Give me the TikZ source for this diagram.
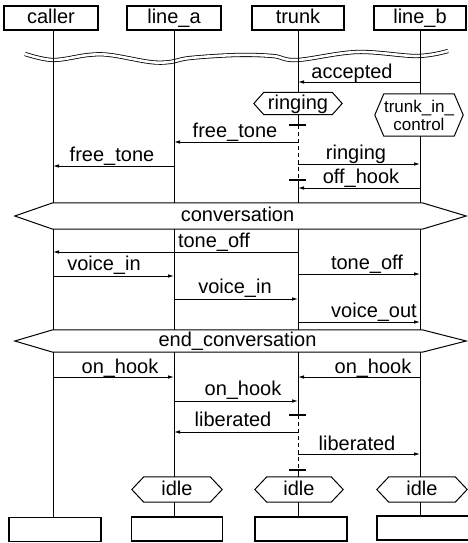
\documentclass[tikz,border=0pt]{standalone}
\usepackage{fontspec}
\setmainfont{Liberation Sans}
\usetikzlibrary{arrows.meta}

% outline of a state symbol round a named node: pointed ends to the left and right
\newcommand\hexoutline[3]{%
  \draw[hexline] (#1.north west) -- (#1.north east) -- ([xshift=#3]#1.east)
    -- (#1.south east) -- (#1.south west) -- ([xshift=-#2]#1.west) -- cycle;}

\begin{document}
\begin{tikzpicture}[x=1pt,y=-1pt,
  txt/.style={font=\fontsize{20}{22}\selectfont},
  lbl/.style={txt, inner sep=0pt, anchor=base},
  objbox/.style={txt, draw, line width=1.1pt, minimum width=92pt, minimum height=24pt,
    inner sep=0pt, text height=14pt, text depth=3pt},
  statenode/.style={txt, inner sep=0pt, text height=14pt, text depth=3pt},
  hexline/.style={line width=1pt, line join=miter},
  life/.style={line width=1pt},
  dashlife/.style={line width=1pt, dash pattern=on 4pt off 3pt},
  msg/.style={line width=0.9pt, -{Latex[length=6pt,width=3.6pt]}},
  timer/.style={line width=2.4pt},
  breakline/.style={line width=0.8pt, double=white, double distance=2.6pt},
]
\fill[white] (0,0) rectangle (467,543);
\useasboundingbox (0,0) rectangle (467,543);

% lifeline positions
\coordinate (xca) at (53,0);
\coordinate (xla) at (174,0);
\coordinate (xtr) at (298,0);
\coordinate (xlb) at (420,0);

% process headers
\node[objbox, minimum width=94pt] (caller) at (51,18) {caller};
\node[objbox, minimum width=94pt] (linea)  at (174,18) {line\_a};
\node[objbox] (trunk) at (298,18) {trunk};
\node[objbox] (lineb) at (420,18) {line\_b};

% time break
\draw[breakline] plot[smooth, tension=0.6] coordinates {(25,54) (53,60) (88,55) (110,55)
  (150,62) (170,62) (190,58) (237,55) (273,56) (297,60) (357,52) (417,56) (448,51)};

% states
\node[statenode, minimum width=68pt, minimum height=22pt] (ringing) at (298,103.5) {ringing};
\hexoutline{ringing}{10}{10}
\node[inner sep=0pt, minimum width=70pt, minimum height=42pt, align=center,
  font=\fontsize{17}{18}\selectfont] (tic) at (419,115) {trunk\_in\_\\control};
\hexoutline{tic}{9}{9}

\node[statenode, minimum width=369pt, minimum height=26pt] (conv) at (237.5,216) {conversation};
\hexoutline{conv}{38}{44}
\node[statenode, minimum width=369pt, minimum height=22pt] (endc) at (237.5,341) {end\_conversation};
\hexoutline{endc}{38}{44}

\node[statenode, minimum width=66pt, minimum height=25pt] (idlea) at (177,489.5) {idle};
\hexoutline{idlea}{12}{12}
\node[statenode, minimum width=64pt, minimum height=25pt] (idlet) at (299,489.5) {idle};
\hexoutline{idlet}{12}{12}
\node[statenode, minimum width=66pt, minimum height=25pt] (idleb) at (422,489.5) {idle};
\hexoutline{idleb}{12}{12}

% process end boxes
\node[objbox] (callerend) at (55,529.5) {};
\node[objbox, minimum width=91pt] (lineaend) at (177,529) {};
\node[objbox] (trunkend) at (301,529) {};
\node[objbox, minimum width=94pt] (linebend) at (424,528) {};

% timers on the trunk
\coordinate (tm1) at (298,125);
\coordinate (tm2) at (298,180);
\coordinate (tm3) at (298,415);
\coordinate (tm4) at (298,470);
\foreach \c in {tm1,tm2,tm3,tm4}
  \draw[timer] ([xshift=-9pt]\c) -- ([xshift=8pt]\c);

% lifelines
\draw[life] (xca |- caller.south) -- (xca |- conv.north);
\draw[life] (xla |- linea.south) -- (xla |- conv.north);
\draw[life] (trunk.south) -- (ringing.north);
\draw[life] (ringing.south) -- (tm1);
\draw[dashlife] (tm1) -- (tm2);
\draw[life] (tm2) -- (xtr |- conv.north);
\draw[life] (lineb.south) -- (xlb |- tic.north);
\draw[life] (xlb |- tic.south) -- (xlb |- conv.north);

\foreach \x in {xca,xla,xtr,xlb}
  \draw[life] (\x |- conv.south) -- (\x |- endc.north);

\draw[life] (xca |- endc.south) -- (xca |- callerend.north);
\draw[life] (xla |- endc.south) -- (xla |- idlea.north);
\draw[life] (xla |- idlea.south) -- (xla |- lineaend.north);
\draw[life] (xtr |- endc.south) -- (tm3);
\draw[dashlife] (tm3) -- (tm4);
\draw[life] (tm4) -- (xtr |- idlet.north);
\draw[life] (xtr |- idlet.south) -- (xtr |- trunkend.north);
\draw[life] (xlb |- endc.south) -- (xlb |- idleb.north);
\draw[life] (xlb |- idleb.south) -- (xlb |- linebend.north);

% signals: number / sender / receiver / height / label x / label baseline / name
\foreach \i/\f/\t/\y/\lx/\ly/\name in {
   1/xlb/xtr/82/352/78/accepted,
   2/xtr/xla/142/235/137/free\_tone,
   3/xla/xca/166/112/161/free\_tone,
   4/xtr/xlb/164/356/159/ringing,
   5/xlb/xtr/188/361/183/off\_hook,
   6/xtr/xca/252/214/247/tone\_off,
   7/xca/xla/276/104/270/voice\_in,
   8/xtr/xlb/274/367/269/tone\_off,
   9/xla/xtr/299/235/293/voice\_in,
  10/xtr/xlb/322/374/317/voice\_out,
  11/xca/xla/377/120/373/on\_hook,
  12/xlb/xtr/377/373/373/on\_hook,
  13/xla/xtr/401/243/395/on\_hook,
  14/xtr/xla/432/233/426/liberated,
  15/xtr/xlb/454/357/450/liberated}{
  \coordinate (m\i-s) at (\f |- 0,\y);
  \coordinate (m\i-e) at (\t |- 0,\y);
  \draw[msg] (m\i-s) -- (m\i-e);
  \node[lbl] (l\i) at (\lx,\ly) {\name};
}
\end{tikzpicture}
\end{document}
